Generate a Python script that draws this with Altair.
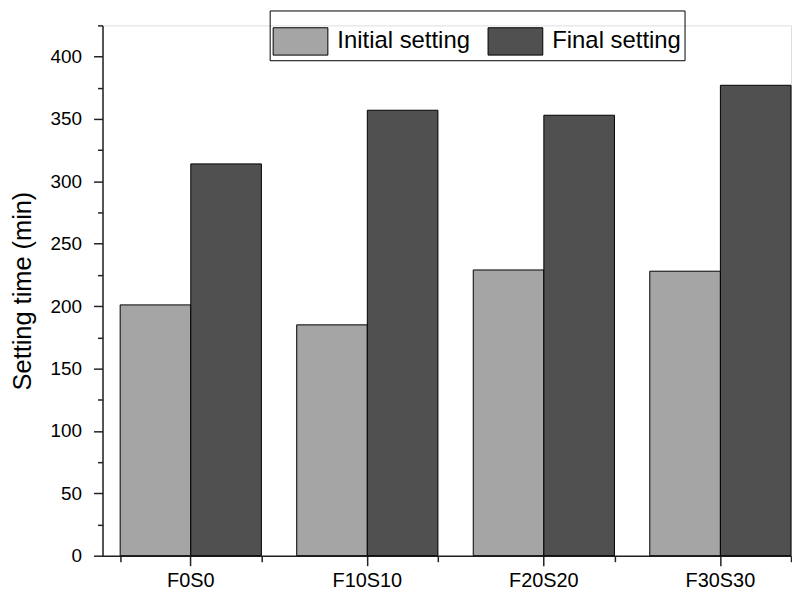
import altair as alt
import pandas as pd

categories = ["F0S0", "F10S10", "F20S20", "F30S30"]
series_names = ["Initial setting", "Final setting"]
initial_values = [201, 185, 229, 228]
final_values = [314, 357, 353, 377]
y_ticks = list(range(0, 426, 25))

rows = []
for c, v in zip(categories, initial_values):
    rows.append({"category": c, "series": series_names[0], "value": v})
for c, v in zip(categories, final_values):
    rows.append({"category": c, "series": series_names[1], "value": v})
df = pd.DataFrame(rows)

FONT = "Liberation Sans"
AX = "#222222"
xscale = alt.Scale(paddingInner=0.2, paddingOuter=0.05, align=1)

bars = alt.Chart(df).mark_bar(stroke="black", strokeWidth=1).encode(
    x=alt.X("category:N", sort=categories, scale=xscale,
            axis=alt.Axis(title=None, labelAngle=0, tickSize=10, labelPadding=5,
                          labelFont=FONT, labelFontSize=20,
                          labelColor="black", domainColor=AX, tickColor=AX,
                          domainWidth=1.5, tickWidth=1.5, grid=False, orient="bottom")),
    xOffset=alt.XOffset("series:N", sort=series_names,
                        scale=alt.Scale(paddingInner=0, paddingOuter=0)),
    y=alt.Y("value:Q", scale=alt.Scale(domain=[0, 425], nice=False),
            axis=alt.Axis(title="Setting time (min)", values=y_ticks,
                          labelExpr="datum.value % 50 === 0 ? datum.label : ''",
                          tickSize={"condition": {"test": "datum.value % 50 !== 0", "value": 5}, "value": 9},
                          labelPadding=12, labelFont=FONT, labelFontSize=19, labelColor="black",
                          titleFont=FONT, titleFontSize=25.5, titleFontWeight="normal",
                          titleColor="black", titlePadding=15,
                          domainColor=AX, tickColor=AX, domainWidth=1.5, tickWidth=1.5,
                          grid=False)),
    color=alt.Color("series:N", scale=alt.Scale(domain=series_names, range=["#a5a5a5", "#505050"]),
                    legend=alt.Legend(title=None, orient="none", legendX=168, legendY=-15,
                                      direction="horizontal", strokeColor="black",
                                      padding=3, labelFont=FONT, labelFontSize=24,
                                      labelColor="black", labelOffset=9, columnPadding=15,
                                      symbolType="M-1,-0.5H1V0.5H-1Z", symbolSize=3025,
                                      symbolStrokeColor="black", symbolStrokeWidth=1,
                                      symbolOpacity=1)),
)

minor = alt.Chart(pd.DataFrame({"category": categories})).mark_bar(opacity=0).encode(
    x=alt.X("category:N", sort=categories,
            axis=alt.Axis(tickBand="extent", labels=False, domain=False, title=None,
                          tickSize=6, tickColor=AX, tickWidth=1.5, orient="bottom", grid=False)),
)

chart = alt.layer(bars, minor).resolve_axis(x="independent").properties(
    width=692, height=533,
    padding={"left": 2, "top": 0, "right": 0, "bottom": 0},
).configure_view(stroke=None).configure(background="white")

chart.save("out.html", embed_options={"renderer": "svg", "actions": False})
